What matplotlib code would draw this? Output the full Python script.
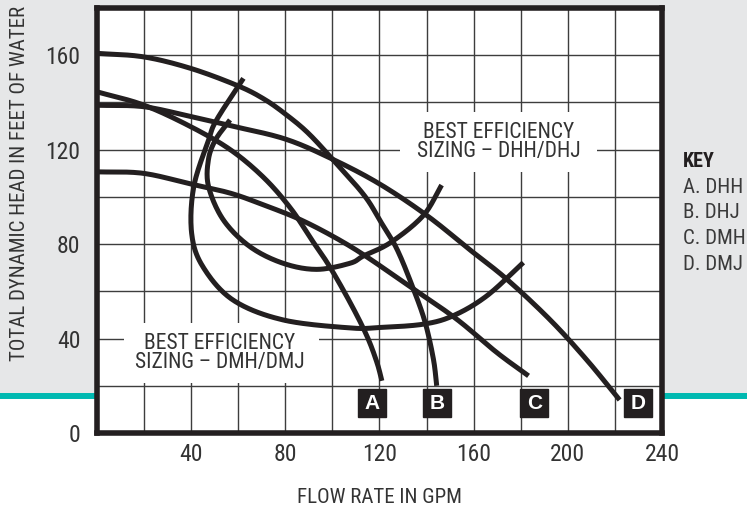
import os
import numpy as np
import matplotlib
matplotlib.use('Agg')
import matplotlib.pyplot as plt
from matplotlib import font_manager as fm
from matplotlib.patches import Rectangle
from matplotlib.lines import Line2D

# Head curves (flow in GPM, head in feet of water)
a_flow = [0, 19.8, 39.9, 56.9, 71, 82.3, 90.8, 98.5, 107.5, 114.6, 118.9, 121]
a_head = [144.5, 138.9, 129.7, 119.8, 108, 95.1, 82.4, 71, 55.3, 41.2, 29.9, 22.1]

b_flow = [0, 19.8, 39.9, 60, 71, 80, 89.4, 100, 113.4, 120.5, 127.4, 134.4, 139.4, 142.9, 144.3]
b_head = [160.8, 159.3, 154.4, 147, 141.4, 135.1, 127.3, 116, 100.8, 89.5, 77.9, 61, 46.8, 31.3, 20]

c_flow = [0, 19.5, 39.7, 56.9, 71, 85.2, 99.3, 113.4, 134.4, 152.8, 169.8, 183.3]
c_head = [110.6, 110, 105.5, 101.5, 96.5, 90.9, 83.8, 75.4, 61, 48.2, 34.1, 24.2]

d_flow = [0, 19.8, 39.9, 56.9, 80, 100, 120, 140.3, 158.5, 174, 192.4, 208, 222]
d_head = [138.8, 138.2, 134, 130.1, 124.5, 116, 105.5, 92, 77.5, 65.2, 48, 31, 14]

# best efficiency regions
dmh_bep_flow = [62.2, 50.8, 47.4, 41.1, 40.2, 45, 57.8, 79, 107.5, 120.3, 138.7, 151.4, 165.6, 181.1]
dmh_bep_head = [150.2, 132.6, 124.1, 104.3, 84.6, 70.4, 56.3, 47.9, 44.5, 44.7, 46.1, 49.7, 58.1, 72.2]

dhh_bep_flow = [56.5, 50.3, 47.3, 47.4, 53.7, 65.0, 79.0, 93.3, 107.5, 113.2, 124.6, 138.5, 146.4]
dhh_bep_head = [132.6, 124.1, 115.6, 104.3, 90.2, 78.9, 71.9, 69.3, 71.9, 75.0, 80.6, 92.0, 105.0]

curve_letters = ['A', 'B', 'C', 'D']
letter_flow = [116.8, 144.6, 185.8, 230]
key_labels = ['A. DHH', 'B. DHJ', 'C. DMH', 'D. DMJ']

INK = '#231f20'
GRID = '#3d3d3d'
TEXT = '#333333'
GRAY_BG = '#e6e7e8'
TEAL = '#00b9b1'


# look for a narrow / condensed sans face among the installed fonts
def find_narrow(bold=False):
    if bold:
        prefs = ['liberationsansnarrow-bold.', 'robotocondensed-bold.', 'notosans-condensedbold.',
                 'dejavusanscondensed-bold.', 'opensans-condensedbold']
    else:
        prefs = ['liberationsansnarrow-regular.', 'robotocondensed-regular.', 'robotocondensed-light.',
                 'notosans-condensed.', 'notosans-condensed-regular', 'notosans-condensedlight.',
                 'dejavusanscondensed.', 'opensans-condensedregular', 'opensans_condensed-regular']
    files = [f.fname for f in fm.fontManager.ttflist]
    for key in prefs:
        for path in files:
            if key in os.path.basename(path).lower():
                return path
    for f in fm.fontManager.ttflist:
        n = (f.name + ' ' + os.path.basename(f.fname)).lower()
        if not ('narrow' in n or 'condensed' in n):
            continue
        if 'mono' in n or 'serif' in n or 'italic' in n or 'oblique' in n or f.style != 'normal':
            continue
        if ('bold' in n) != bold:
            continue
        if 'extra' in n or 'semi' in n or 'black' in n or 'thin' in n:
            continue
        return f.fname
    return None


narrow_path = find_narrow()
narrow_bold_path = find_narrow(bold=True)
shrink = 1.0 if narrow_path else 0.84


def narrow(size, bold=False):
    path = narrow_bold_path if bold else narrow_path
    if path:
        return fm.FontProperties(fname=path, size=size)
    return fm.FontProperties(family=['Liberation Sans', 'DejaVu Sans'], size=size * shrink,
                             weight='bold' if bold else 'normal')


# smooth line through the read points (Catmull-Rom), only for drawing
def smooth(xs, ys, steps=20):
    p = np.column_stack([xs, ys]).astype(float)
    p = np.vstack([2 * p[0] - p[1], p, 2 * p[-1] - p[-2]])
    out = []
    t = np.linspace(0, 1, steps, endpoint=False)[:, None]
    for i in range(1, len(p) - 2):
        p0, p1, p2, p3 = p[i - 1], p[i], p[i + 1], p[i + 2]
        seg = 0.5 * (2 * p1 + (-p0 + p2) * t + (2 * p0 - 5 * p1 + 4 * p2 - p3) * t ** 2
                     + (-p0 + 3 * p1 - 3 * p2 + p3) * t ** 3)
        out.append(seg)
    out.append(p[-2][None, :])
    pts = np.vstack(out)
    return pts[:, 0], pts[:, 1]


fig = plt.figure(figsize=(7.47, 5.08), dpi=100, facecolor='white')
ax = fig.add_axes([97 / 747, 75 / 508, 565 / 747, 425 / 508])
ax.set_zorder(1)

# gray band above the teal rule, rule itself
rule_y = 1 - 396 / 508
fig.add_artist(Rectangle((0, rule_y), 1, 1 - rule_y, transform=fig.transFigure,
                         facecolor=GRAY_BG, edgecolor='none', zorder=0.2))
fig.add_artist(Line2D([0, 1], [rule_y, rule_y], transform=fig.transFigure,
                      color=TEAL, lw=4.3, zorder=0.5))

ax.set_xlim(0, 240)
ax.set_ylim(0, 180)
xt = np.arange(0, 241, 20)
yt = np.arange(0, 181, 20)
ax.set_xticks(xt)
ax.set_yticks(yt)
ax.set_xticklabels([str(v) if v % 40 == 0 and v > 0 else '' for v in xt])
ax.set_yticklabels([str(v) if v % 40 == 0 and v < 180 else '' for v in yt])
ax.tick_params(axis='both', length=0, labelcolor=TEXT)
ax.tick_params(axis='x', pad=7)
ax.tick_params(axis='y', pad=12)
for lbl in ax.get_xticklabels() + ax.get_yticklabels():
    lbl.set_fontproperties(narrow(17))
ax.grid(True, color=GRID, lw=1.0)
ax.set_axisbelow(True)
for s in ax.spines.values():
    s.set_linewidth(4)
    s.set_color(INK)

# white boxes behind the efficiency labels
ax.add_patch(Rectangle((11.5, 21.2), 82.8, 25.4, facecolor='white', edgecolor='none', zorder=1))
ax.add_patch(Rectangle((128.7, 110.5), 83.7, 25.5, facecolor='white', edgecolor='none', zorder=1))

for xs, ys in [(a_flow, a_head), (b_flow, b_head), (c_flow, c_head), (d_flow, d_head),
               (dmh_bep_flow, dmh_bep_head), (dhh_bep_flow, dhh_bep_head)]:
    sx, sy = smooth(xs, ys)
    ax.plot(sx, sy, color=INK, lw=3.6, solid_capstyle='butt', zorder=2)

ax.text(52.2, 33.9, 'BEST EFFICIENCY\nSIZING – DMH/DMJ', ha='center', va='center',
        multialignment='center', linespacing=0.9, fontproperties=narrow(15.5), color=TEXT, zorder=3)
ax.text(170.8, 123.2, 'BEST EFFICIENCY\nSIZING – DHH/DHJ', ha='center', va='center',
        multialignment='center', linespacing=0.9, fontproperties=narrow(15.5), color=TEXT, zorder=3)

# curve tags
ax.plot(letter_flow, [12.5] * len(letter_flow), linestyle='none', marker='s', ms=20.5,
        mfc=INK, mec=INK, zorder=3)
for lx, letter in zip(letter_flow, curve_letters):
    ax.text(lx, 12.5, letter, ha='center', va='center', color='white', fontsize=15,
            fontweight='bold', family=['Liberation Sans', 'DejaVu Sans'], zorder=4)

fig.text(0.508, 0.021, 'FLOW RATE IN GPM', ha='center', va='center',
         fontproperties=narrow(15), color=TEXT)
fig.text(0.026, 1 - 183 / 508, 'TOTAL DYNAMIC HEAD IN FEET OF WATER', ha='center', va='center',
         rotation=90, fontproperties=narrow(15), color=TEXT)

key_x = 683 / 747
fig.text(key_x, 1 - 161.5 / 508, 'KEY', ha='left', va='center', fontproperties=narrow(14.5, bold=True),
         color=INK)
for lbl, py in zip(key_labels, [187.5, 212.5, 239, 265]):
    fig.text(key_x, 1 - py / 508, lbl, ha='left', va='center', fontproperties=narrow(15),
             color='#3a3a3a')

fig.savefig('out.png', dpi=100, facecolor=fig.get_facecolor())
